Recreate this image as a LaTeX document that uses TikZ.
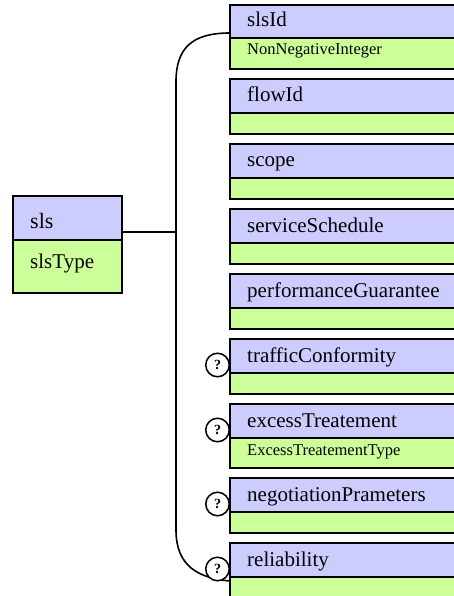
\documentclass[tikz,border=0pt]{standalone}
\usepackage{fontspec}
\setmainfont{Liberation Serif}
\usetikzlibrary{calc}
\definecolor{hdrc}{HTML}{CCCCFF}
\definecolor{typc}{HTML}{CCFF99}
\tikzset{
  boxbase/.style={draw=black, line width=2pt, anchor=north west, inner sep=0pt, outer sep=0pt},
  hdrbox/.style={boxbase, fill=hdrc, minimum width=240pt},
  typbox/.style={boxbase, fill=typc, minimum width=240pt},
  hdrtxt/.style={anchor=base west, inner sep=0pt, font=\fontsize{21}{24}\selectfont},
  typtxt/.style={anchor=base west, inner sep=0pt, font=\fontsize{16.5}{19}\selectfont},
  conn/.style={line width=1.6pt, black},
  qmark/.style={circle, draw=black, line width=1.5pt, fill=white, minimum size=23.5pt, inner sep=0pt, font=\fontsize{14}{15}\selectfont\bfseries},
}
% name, top y, header height, type height, label, type label
\newcommand\xelem[6]{%
  \node[hdrbox, minimum height=#3pt] (#1h) at (230,#2) {};
  \node[typbox, minimum height=#4pt] (#1t) at (#1h.south west) {};
  \node[hdrtxt] (#1l) at ($(#1h.south west)+(17,-11)$) {#5};
  \node[typtxt] (#1y) at ($(#1t.north west)+(17,17)$) {#6};
}
\newcommand\xquest[1]{%
  \node[qmark] (#1q) at ($(#1h.south west)+(-12.5,-8)$) {?};
}
\begin{document}
\begin{tikzpicture}[x=1pt,y=-1pt]
\useasboundingbox (0,0) rectangle (454,596);
\clip (0,0) rectangle (454,596);
% connectors
\coordinate (j) at (176,232);
\coordinate (ctop) at (230,33);
\coordinate (cbot) at (230,581);
\draw[conn] (ctop) .. controls (192,33) and (176,48) .. (176,82) -- (176,530)
  .. controls (176,566) and (198,578) .. (cbot);
% elements
\xelem{slsid}{5}{33}{31}{slsId}{NonNegativeInteger}
\xelem{flowid}{79}{34}{21}{flowId}{}
\xelem{scope}{144}{34}{21}{scope}{}
\xelem{servsch}{209}{34}{21}{serviceSchedule}{}
\xelem{perfg}{274}{34}{21}{performanceGuarantee}{}
\xelem{trafc}{339}{34}{21}{trafficConformity}{}
\xelem{exct}{404}{34}{30}{excessTreatement}{ExcessTreatementType}
\xelem{negp}{478}{34}{21}{negotiationPrameters}{}
\xelem{relia}{543}{34}{21}{reliability}{}
\xquest{trafc}
\xquest{exct}
\xquest{negp}
\xquest{relia}
% root element
\node[boxbase, fill=hdrc, minimum width=109pt, minimum height=44pt] (slsh) at (13,196) {};
\node[boxbase, fill=typc, minimum width=109pt, minimum height=53pt] (slst) at (slsh.south west) {};
\node[anchor=base west, inner sep=0pt, font=\fontsize{22}{25}\selectfont] (slsl) at ($(slsh.south west)+(17,-12)$) {sls};
\node[anchor=base west, inner sep=0pt, font=\fontsize{21}{24}\selectfont] (slsy) at ($(slst.north west)+(17,28)$) {slsType};
\draw[conn] (j -| slsh.east) -- (j);
\end{tikzpicture}
\end{document}
